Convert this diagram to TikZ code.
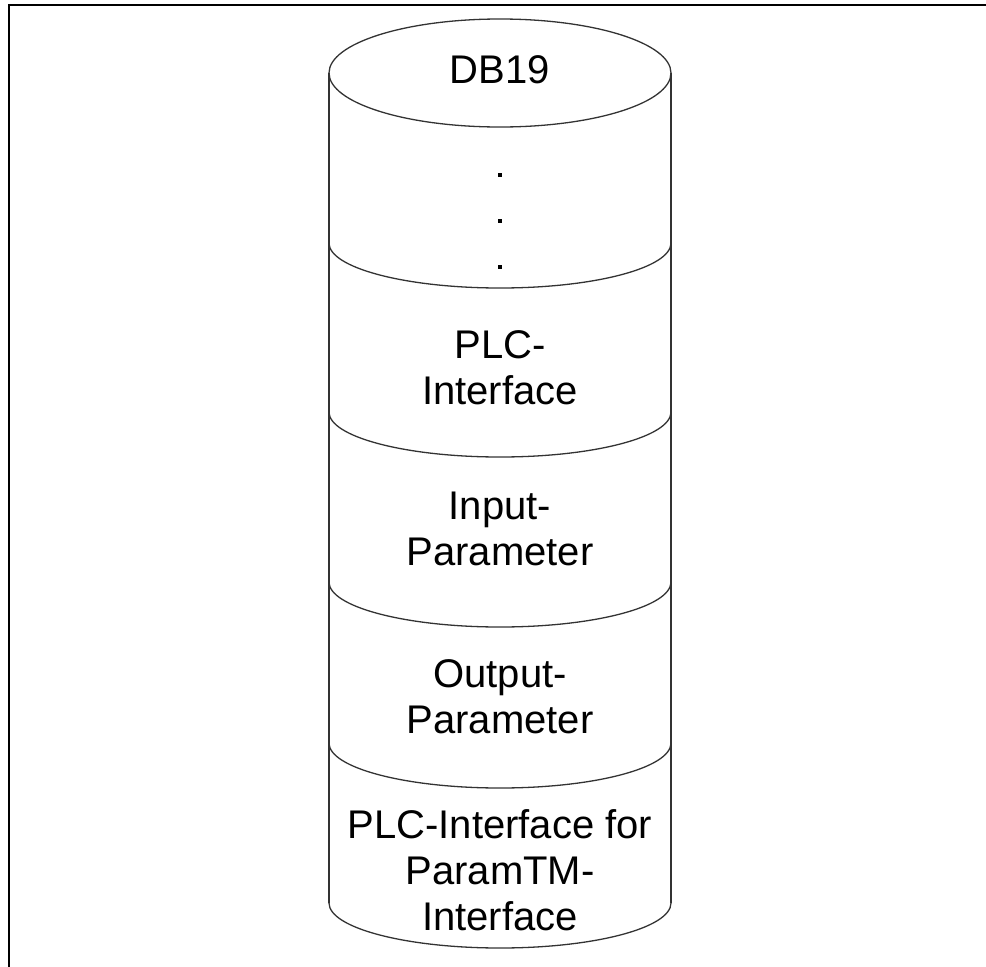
\documentclass[tikz,border=0pt]{standalone}
\usepackage{fontspec}
\setmainfont{Liberation Sans}
\newlength{\du}
\setlength{\du}{1pt}
\tikzset{
  cyltext/.style={align=center, inner sep=0pt, font=\fontsize{40\du}{46\du}\selectfont},
  cylline/.style={line width=1.3\du, draw=dialinecolor},
  dotmark/.style={fill=black, inner sep=0pt, minimum size=4\du}
}
\definecolor{dialinecolor}{rgb}{0.200000, 0.200000, 0.200000}
\begin{document}
\begin{tikzpicture}
\pgftransformxscale{1.000000}
\pgftransformyscale{-1.000000}
\useasboundingbox (0\du,0\du) rectangle (986\du,967\du);
% frame
\draw[line width=2.5\du] (9\du,967\du)--(9\du,5\du)--(986\du,5\du);
% cylinder
\draw[cylline] (500\du,73\du) ellipse [x radius=171\du, y radius=54\du];
\draw[cylline] (329\du,73\du)--(329\du,903\du);
\draw[cylline] (671\du,73\du)--(671\du,903\du);
\foreach \y in {243,412,582,743,903}
  \draw[cylline] (329\du,\y\du) arc[start angle=180, end angle=0, x radius=171\du, y radius=45\du];
% texts
\node[cyltext] (db) at (500\du,70\du){DB19};
\node[dotmark] (dot1) at (500\du,175\du){};
\node[dotmark] (dot2) at (500\du,221\du){};
\node[dotmark] (dot3) at (500\du,267\du){};
\node[cyltext] (plc) at (500\du,368\du){PLC-\\Interface};
\node[cyltext] (inpar) at (500\du,529\du){Input-\\Parameter};
\node[cyltext] (outpar) at (500\du,697\du){Output-\\Parameter};
\node[cyltext] (tmplc) at (500\du,870\du){PLC-Interface for\\ParamTM-\\Interface};
\end{tikzpicture}
\end{document}
